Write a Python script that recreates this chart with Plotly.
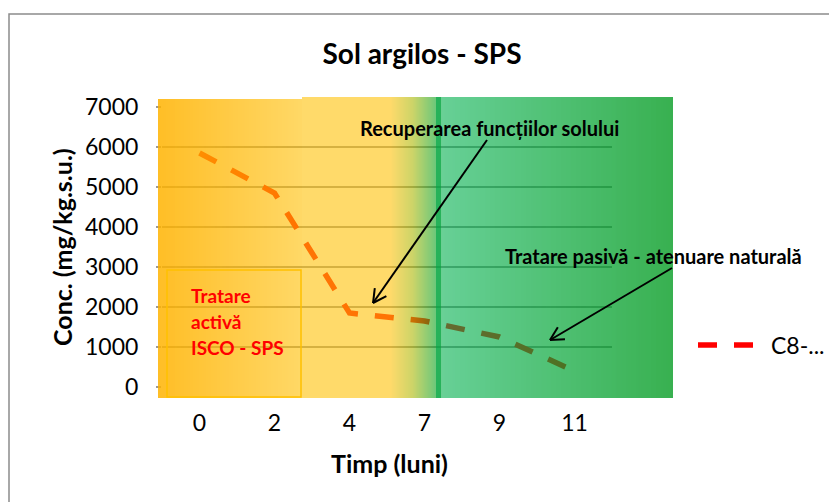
import base64, struct, zlib, math
import plotly.graph_objects as go

# ---------------- data ----------------
months = ["0", "2", "4", "7", "9", "11"]
conc = [5850, 4850, 1850, 1650, 1250, 400]
series_name = "C8-..."
y_ticks = [0, 1000, 2000, 3000, 4000, 5000, 6000, 7000]

W, H = 829, 502
# plot area in pixels
PL, PR, PT, PB = 162, 612, 107, 387
FONT = "Lato"


def px(X):
    return (X - PL) / (PR - PL)


def py(Y):
    return (PB - Y) / (PB - PT)


# ---------------- translucent gradient overlay (decoration) ----------------
def lerp(a, b, t):
    return a + (b - a) * t


anchors = [  # (X pixel, displayed colour over white, alpha)
    (158, (255, 190, 0), 0.85),
    (301, (255, 216, 100), 0.6),
    (302, (255, 218, 106), 0.6),
    (390, (255, 218, 106), 0.6),
    (412, (205, 212, 104), 0.6),
    (435, (110, 200, 122), 0.6),
    (442, (105, 208, 150), 0.6),
    (673, (0, 176, 80), 0.78),
]


def col_at(X):
    if 436 <= X <= 440:
        D, a = (35, 178, 90), 0.85
    else:
        for (x0, d0, a0), (x1, d1, a1) in zip(anchors, anchors[1:]):
            if x0 <= X <= x1:
                t = (X - x0) / (x1 - x0) if x1 > x0 else 0
                D = tuple(lerp(d0[i], d1[i], t) for i in range(3))
                a = lerp(a0, a1, t)
                break
        else:
            D, a = anchors[-1][1], anchors[-1][2]
    c = [max(0, min(255, round((D[i] - (1 - a) * 255) / a))) for i in range(3)]
    return c + [round(a * 255)]


IX0, IX1, IY0, IY1 = 158, 673, 97, 398
iw, ih = IX1 - IX0, IY1 - IY0
cols = [col_at(IX0 + i) for i in range(iw)]
rows = []
for j in range(ih):
    Y = IY0 + j
    row = bytearray([0])
    for i in range(iw):
        X = IX0 + i
        if X < 302 and Y < 99:
            row += bytes([0, 0, 0, 0])
        else:
            row += bytes(cols[i])
    rows.append(bytes(row))


def chunk(tag, data):
    c = struct.pack(">I", len(data)) + tag + data
    return c + struct.pack(">I", zlib.crc32(tag + data) & 0xFFFFFFFF)


png = b"\x89PNG\r\n\x1a\n" + chunk(b"IHDR", struct.pack(">IIBBBBB", iw, ih, 8, 6, 0, 0, 0)) \
    + chunk(b"IDAT", zlib.compress(b"".join(rows), 9)) + chunk(b"IEND", b"")
src = "data:image/png;base64," + base64.b64encode(png).decode()

# ---------------- figure ----------------
fig = go.Figure()
fig.add_trace(go.Scatter(
    x=months, y=conc, mode="lines", name=series_name,
    line=dict(color="#FF0000", width=5.5, dash="19px,17px"),
))

fig.add_layout_image(dict(
    source=src, xref="paper", yref="paper",
    x=px(IX0), y=py(IY0), sizex=iw / (PR - PL), sizey=ih / (PB - PT),
    xanchor="left", yanchor="top", sizing="stretch", layer="above", opacity=1,
))

shapes = []
# chart outer border
shapes.append(dict(type="rect", xref="paper", yref="paper",
                   x0=px(9), x1=px(840), y0=py(515), y1=py(14),
                   line=dict(color="#8c8c8c", width=1.5), fillcolor="rgba(0,0,0,0)"))
# text box border
shapes.append(dict(type="rect", xref="paper", yref="paper",
                   x0=px(167), x1=px(301), y0=py(397), y1=py(270),
                   line=dict(color="#FFC000", width=1.5), fillcolor="rgba(0,0,0,0)"))


def arrow(tail, tip, head=15, ang=28):
    (x0, y0), (x1, y1) = tail, tip
    L = math.hypot(x1 - x0, y1 - y0)
    ux, uy = (x1 - x0) / L, (y1 - y0) / L
    out = [dict(type="line", xref="paper", yref="paper",
                x0=px(x0), y0=py(y0), x1=px(x1), y1=py(y1),
                line=dict(color="black", width=2))]
    for s in (1, -1):
        a = math.radians(ang) * s
        vx, vy = -ux, -uy
        rx = vx * math.cos(a) - vy * math.sin(a)
        ry = vx * math.sin(a) + vy * math.cos(a)
        out.append(dict(type="line", xref="paper", yref="paper",
                        x0=px(x1), y0=py(y1), x1=px(x1 + rx * head), y1=py(y1 + ry * head),
                        line=dict(color="black", width=2)))
    return out


shapes += arrow((487, 140), (373, 303))
shapes += arrow((672, 268), (550, 340))

annotations = [
    dict(text="<b>Recuperarea funcțiilor solului</b>", x=px(489), y=py(128),
         font=dict(size=20, color="black", family=FONT)),
    dict(text="<b>Tratare pasivă - atenuare naturală</b>", x=px(653), y=py(256),
         font=dict(size=20, color="black", family=FONT)),
    dict(text="<b>Tratare</b>", x=px(189), y=py(295), xanchor="left",
         font=dict(size=19, color="#FF0000", family=FONT)),
    dict(text="<b>activă</b>", x=px(189), y=py(321), xanchor="left",
         font=dict(size=19, color="#FF0000", family=FONT)),
    dict(text="<b>ISCO - SPS</b>", x=px(189), y=py(347), xanchor="left",
         font=dict(size=19, color="#FF0000", family=FONT)),
    dict(text="<b>Timp (luni)</b>", x=px(389), y=py(463),
         font=dict(size=25, color="black", family=FONT)),
    dict(text="<b>Conc. (mg/kg.s.u.)</b>", x=px(62), y=py(247), textangle=-90,
         font=dict(size=25, color="black", family=FONT)),
]
for a in annotations:
    a.update(xref="paper", yref="paper", showarrow=False)
    a.setdefault("xanchor", "center")
    a.setdefault("yanchor", "middle")

fig.update_layout(
    width=W, height=H,
    margin=dict(l=PL, r=W - PR, t=PT, b=H - PB, autoexpand=False),
    paper_bgcolor="white", plot_bgcolor="white",
    font=dict(family=FONT, color="black"),
    title=dict(text="<b>Sol argilos - SPS</b>", x=422 / W, y=1 - 54 / H,
               xanchor="center", yanchor="middle", xref="container", yref="container",
               font=dict(size=28, color="black", family=FONT)),
    xaxis=dict(type="category", categoryorder="array", categoryarray=months,
               range=[-0.5, 5.5], showgrid=False, showline=False, zeroline=False,
               ticks="", tickfont=dict(size=23, color="black"), ticklabelstandoff=20),
    yaxis=dict(range=[0, 7000], tickvals=y_ticks, showgrid=True, gridcolor="#999999",
               gridwidth=1.5, zeroline=False, showline=False, ticks="outside", ticklen=5,
               tickcolor="#999999", tickwidth=1.5, tickfont=dict(size=23, color="black"),
               ticklabelstandoff=13),
    showlegend=True,
    legend=dict(x=px(693), y=py(345), xanchor="left", yanchor="middle",
                font=dict(size=23, color="black", family=FONT), itemwidth=68,
                bgcolor="rgba(0,0,0,0)"),
    shapes=shapes, annotations=annotations,
)

fig.write_html("out.html", config={"displayModeBar": False},
               post_script="document.body.style.margin='0';document.body.style.overflow='hidden';")
